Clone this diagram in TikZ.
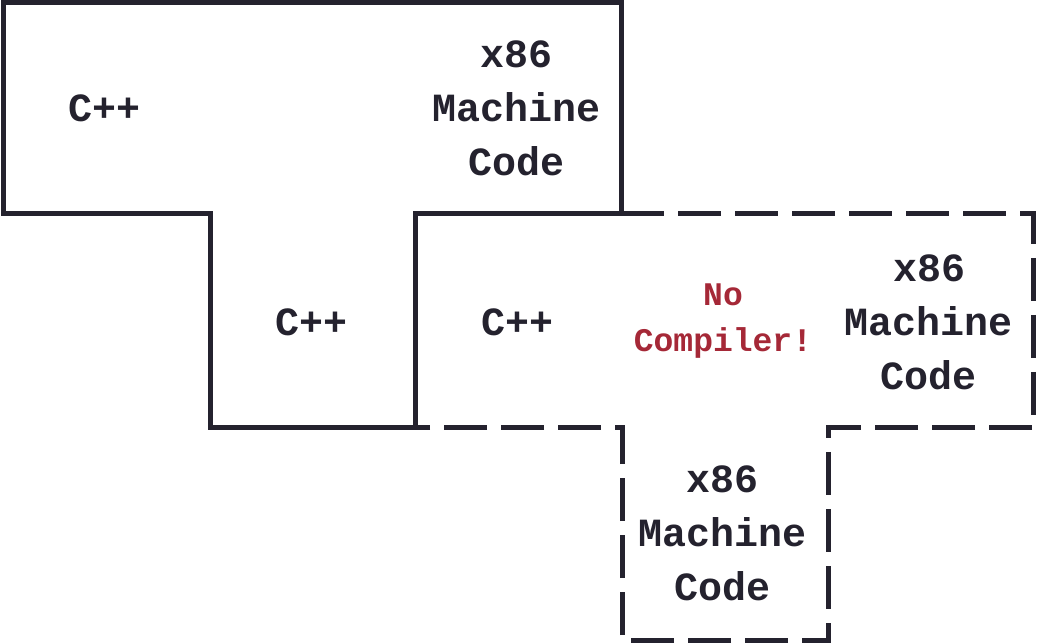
\documentclass[tikz,border=0pt]{standalone}
\usepackage{fontspec}
\setmonofont{Liberation Mono}
\definecolor{ink}{RGB}{36,34,46}
\definecolor{warn}{RGB}{165,40,55}
\tikzset{
  tline/.style={draw=ink, line width=5pt, line join=miter},
  tdash/.style={draw=ink, line width=5pt, dash pattern=on 43pt off 14pt},
  big/.style={text=ink, align=center, inner sep=0pt, font=\ttfamily\bfseries\fontsize{40}{54}\selectfont},
  small/.style={text=warn, align=center, inner sep=0pt, font=\ttfamily\bfseries\fontsize{33}{46}\selectfont}
}
\begin{document}
\begin{tikzpicture}[x=1pt,y=-1pt]
\useasboundingbox (0,0) rectangle (1037,644);
% solid T
\draw[tline] (3,3) -- (621,3) -- (621,214) -- (415,214) -- (415,428) -- (210,428) -- (210,214) -- (3,214) -- cycle;
% dashed T
\draw[tdash] (621,214) -- (1033,214) -- (1033,428) -- (828,428) -- (828,640) -- (622,640) -- (622,428) -- (415,428);
% texts
\node[big] (src1) at (105,108) {C++};
\node[big] (tgt1) at (517,108) {x86\\Machine\\Code};
\node[big] (lang1) at (312,322) {C++};
\node[big] (src2) at (518,322) {C++};
\node[small] (nc) at (723,321) {No\\Compiler!};
\node[big] (tgt2) at (929,322) {x86\\Machine\\Code};
\node[big] (lang2) at (723,533) {x86\\Machine\\Code};
\end{tikzpicture}
\end{document}
